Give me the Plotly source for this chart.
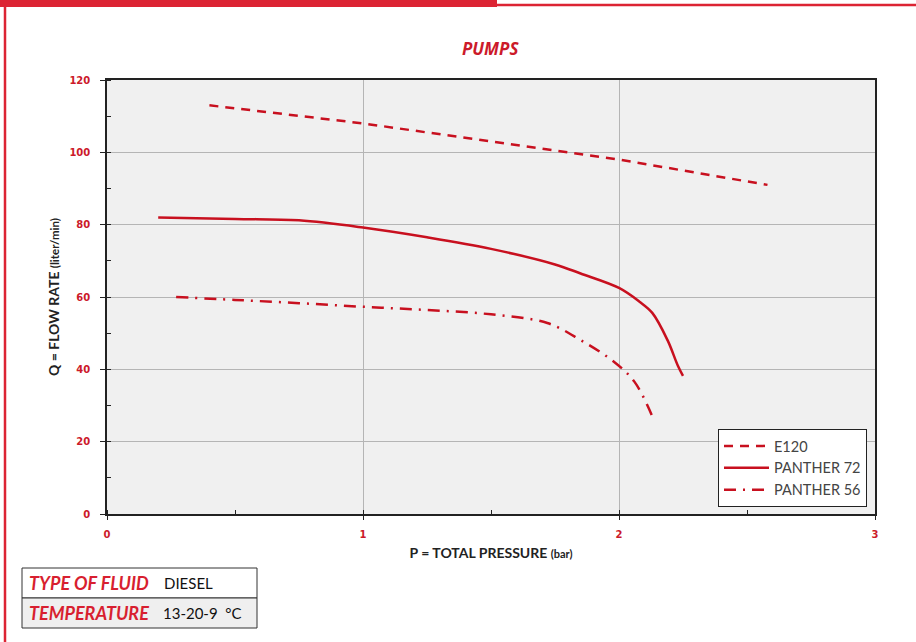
import plotly.graph_objects as go

# ---- data ----
e120_p = [0.4, 1.0, 1.5, 2.0, 2.58]
e120_q = [113, 108, 103, 98, 91]

p72_p = [0.2, 0.5, 0.75, 1.0, 1.25, 1.5, 1.75, 1.85, 2.0, 2.08, 2.13, 2.19, 2.23, 2.25]
p72_q = [82, 81.6, 81.2, 79.2, 76.5, 73.3, 69.0, 66.5, 62.5, 58.7, 55.6, 48.0, 41.0, 38.2]

p56_p = [0.27, 0.5, 0.75, 1.0, 1.25, 1.5, 1.72, 1.85, 1.98, 2.06, 2.13]
p56_q = [60, 59.2, 58.3, 57.3, 56.4, 55.2, 52.8, 48.1, 42.1, 36.6, 27.0]

x_ticks = [0, 1, 2, 3]
y_ticks = [0, 20, 40, 60, 80, 100, 120]

# ---- layout geometry (pixels) ----
W, H = 916, 642
L, R, T, B = 107, 875, 80, 514
PW, PH = R - L, B - T

def px(x):
    return (x - L) / PW

def py(y):
    return (B - y) / PH

RED = "#cc1a2a"
LINE_RED = "#c8101f"

fig = go.Figure()
fig.add_trace(go.Scatter(x=e120_p, y=e120_q, mode="lines", name="E120",
                         line=dict(color=LINE_RED, width=2.5, dash="9px,7px")))
fig.add_trace(go.Scatter(x=p72_p, y=p72_q, mode="lines", name="PANTHER 72",
                         line=dict(color=LINE_RED, width=2.5, shape="spline")))
fig.add_trace(go.Scatter(x=p56_p, y=p56_q, mode="lines", name="PANTHER 56",
                         line=dict(color=LINE_RED, width=2.5, shape="spline",
                                   dash="12px,7px,2px,7px")))

tickfont = dict(family="DejaVu Sans", size=10, color=RED, weight="bold")
titlefont = dict(family="Lato, DejaVu Sans", size=14, color="#222", weight="bold")
fig.update_xaxes(range=[0, 3], tickvals=x_ticks, ticktext=[str(v) for v in x_ticks],
                 showgrid=True, gridcolor="#b5b5b5", gridwidth=1,
                 showline=True, linecolor="#222", linewidth=1.5, mirror=True,
                 ticks="outside", ticklen=4, tickcolor="#222",
                 minor=dict(dtick=0.5, ticks="inside", ticklen=4, tickcolor="#222", showgrid=False),
                 tickfont=tickfont, zeroline=False, ticklabelstandoff=6,
                 title=dict(text="P = TOTAL PRESSURE <span style='font-size:11px'>(bar)</span>",
                            standoff=9, font=titlefont))
fig.update_yaxes(range=[0, 120], tickvals=y_ticks, ticktext=[str(v) for v in y_ticks],
                 showgrid=True, gridcolor="#b5b5b5", gridwidth=1,
                 showline=True, linecolor="#222", linewidth=1.5, mirror=True,
                 ticks="outside", ticklen=5, tickcolor="#222",
                 minor=dict(dtick=10, ticks="inside", ticklen=4, tickcolor="#222", showgrid=False),
                 tickfont=tickfont, zeroline=False, ticklabelstandoff=8,
                 title=dict(text="Q = FLOW RATE <span style='font-size:11.5px'>(liter/min)</span>",
                            standoff=6, font=titlefont))

shapes = []
# top red bar + thin line
shapes.append(dict(type="rect", xref="paper", yref="paper", x0=px(0), x1=px(497),
                   y0=py(7), y1=py(0), fillcolor="#dc2433", line=dict(width=0), layer="above"))
shapes.append(dict(type="line", xref="paper", yref="paper", x0=px(497), x1=px(916),
                   y0=py(5), y1=py(5), line=dict(color="#dc2433", width=2.5)))
# left red vertical line
shapes.append(dict(type="line", xref="paper", yref="paper", x0=px(5), x1=px(5),
                   y0=py(0), y1=py(642), line=dict(color="#dc2433", width=2.5)))
# info table
tx0, tx1 = px(22), px(257)
r0, r1, r2 = py(568), py(598), py(628)
shapes.append(dict(type="rect", xref="paper", yref="paper", x0=tx0, x1=tx1, y0=r1, y1=r0,
                   fillcolor="white", line=dict(color="#333", width=1)))
shapes.append(dict(type="rect", xref="paper", yref="paper", x0=tx0, x1=tx1, y0=r2, y1=r1,
                   fillcolor="#efefef", line=dict(color="#333", width=1)))

annots = []
annots.append(dict(text="<b><i>PUMPS</i></b>", xref="paper", yref="paper", x=px(490), y=py(48),
                   showarrow=False, xanchor="center", yanchor="middle",
                   font=dict(family="Open Sans, DejaVu Sans", size=17, color=RED)))
lab_font = dict(family="Lato, Open Sans, DejaVu Sans", size=18, color="#d81f30")
val_font = dict(family="Lato, DejaVu Sans", size=15, color="#111")
annots.append(dict(text="<b><i>TYPE OF FLUID</i></b>", xref="paper", yref="paper", x=px(27), y=py(583),
                   showarrow=False, xanchor="left", yanchor="middle", font=lab_font))
annots.append(dict(text="DIESEL", xref="paper", yref="paper", x=px(162), y=py(583),
                   showarrow=False, xanchor="left", yanchor="middle", font=val_font))
annots.append(dict(text="<b><i>TEMPERATURE</i></b>", xref="paper", yref="paper", x=px(27), y=py(613),
                   showarrow=False, xanchor="left", yanchor="middle", font=lab_font))
annots.append(dict(text="13-20-9  °C", xref="paper", yref="paper", x=px(161), y=py(613),
                   showarrow=False, xanchor="left", yanchor="middle", font=val_font))

fig.update_layout(
    width=W, height=H,
    margin=dict(l=L, r=W - R, t=T, b=H - B),
    paper_bgcolor="white", plot_bgcolor="#f0f0f0",
    showlegend=True,
    legend=dict(x=px(867), y=py(507), xanchor="right", yanchor="bottom",
                bgcolor="white", bordercolor="#222", borderwidth=1,
                font=dict(family="Lato, DejaVu Sans", size=14.5, color="#444"),
                itemwidth=45, tracegroupgap=4),
    shapes=shapes, annotations=annots,
)

fig.write_html("out.html", config={"displayModeBar": False},
               post_script="document.body.style.margin='0px';")
